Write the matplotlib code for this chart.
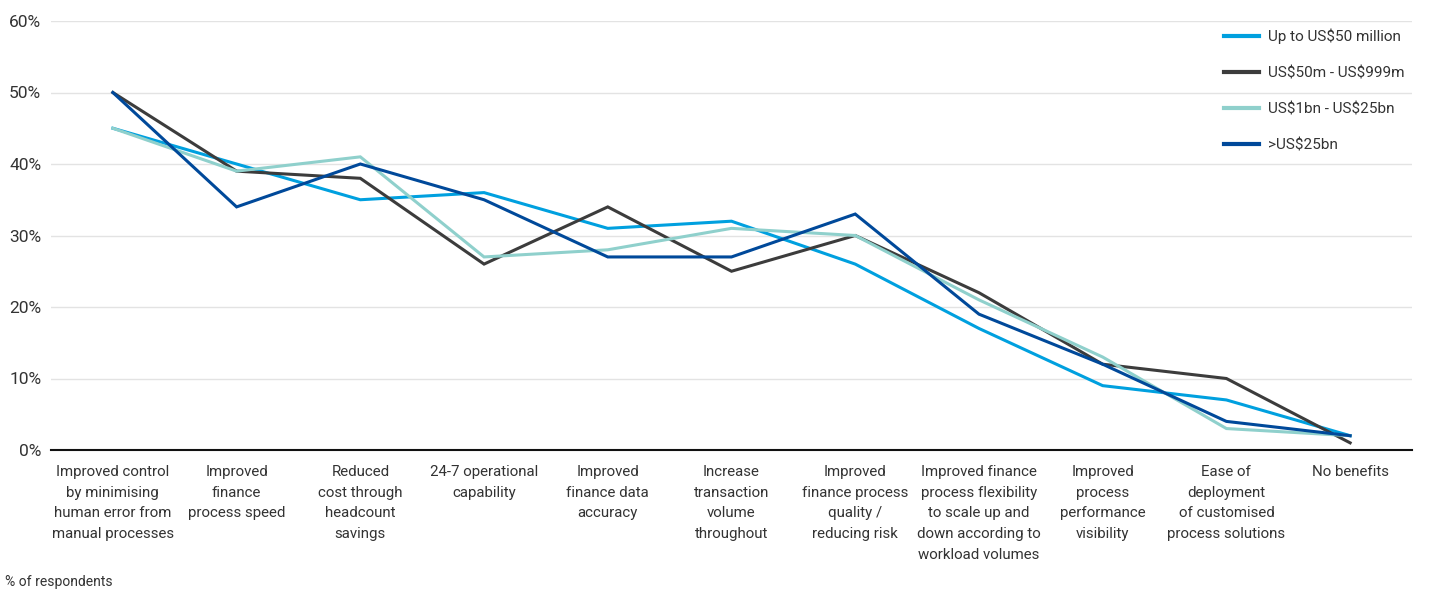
import matplotlib
matplotlib.use("Agg")
import matplotlib.pyplot as plt
from matplotlib.ticker import FuncFormatter, MultipleLocator

categories = [
    "Improved control\nby minimising\nhuman error from\nmanual processes",
    "Improved\nfinance\nprocess speed",
    "Reduced\ncost through\nheadcount\nsavings",
    "24-7 operational\ncapability",
    "Improved\nfinance data\naccuracy",
    "Increase\ntransaction\nvolume\nthroughout",
    "Improved\nfinance process\nquality /\nreducing risk",
    "Improved finance\nprocess flexibility\nto scale up and\ndown according to\nworkload volumes",
    "Improved\nprocess\nperformance\nvisibility",
    "Ease of\ndeployment\nof customised\nprocess solutions",
    "No benefits",
]

up_to_50m = [45, 40, 35, 36, 31, 32, 26, 17, 9, 7, 2]
m50_999m = [50, 39, 38, 26, 34, 25, 30, 22, 12, 10, 1]
bn1_25bn = [45, 39, 41, 27, 28, 31, 30, 21, 13, 3, 2]
over_25bn = [50, 34, 40, 35, 27, 27, 33, 19, 12, 4, 2]

series_names = ["Up to US$50 million", "US$50m - US$999m", "US$1bn - US$25bn", ">US$25bn"]
colors = ["#00a0df", "#3c3c3c", "#8fd0cc", "#00499a"]

plt.rcParams["font.family"] = ["Roboto", "DejaVu Sans"]
plt.rcParams["text.parse_math"] = False

fig = plt.figure(figsize=(14.30, 5.89), dpi=100)
ax = fig.add_axes([51 / 1430, 139 / 589, (1412 - 51) / 1430, (450 - 21) / 589])

x = list(range(len(categories)))
for vals, name, c in zip([up_to_50m, m50_999m, bn1_25bn, over_25bn], series_names, colors):
    ax.plot(x, vals, color=c, lw=2.2, label=name, solid_joinstyle="miter")

ax.set_xlim(-0.5, len(categories) - 0.5)
ax.set_ylim(0, 60)
ax.yaxis.set_major_locator(MultipleLocator(10))
ax.yaxis.set_major_formatter(FuncFormatter(lambda v, p: f"{int(v)}%"))
ax.grid(axis="y", color="#e3e3e3", lw=1)
ax.set_axisbelow(True)
for s in ["top", "right", "left"]:
    ax.spines[s].set_visible(False)
ax.spines["bottom"].set_color("#111111")
ax.spines["bottom"].set_linewidth(1.5)
ax.tick_params(axis="both", length=0, colors="#333333")
ax.tick_params(axis="y", labelsize=12.5, pad=7)
ax.set_xticks(x)
ax.set_xticklabels(categories, fontsize=10.8, linespacing=1.6, va="top")
ax.tick_params(axis="x", pad=11)

leg = ax.legend(loc="upper right", bbox_to_anchor=(1.0, 1.0), frameon=False,
                fontsize=11, handlelength=2.3, handletextpad=0.55, labelspacing=1.45,
                borderaxespad=0.1)
for h in leg.get_lines():
    h.set_linewidth(3)
for t in leg.get_texts():
    t.set_color("#333333")

fig.text(5 / 1430, 1 - 582 / 589, "% of respondents", fontsize=10, color="#333333", va="center")

fig.savefig("out.png", dpi=100)
